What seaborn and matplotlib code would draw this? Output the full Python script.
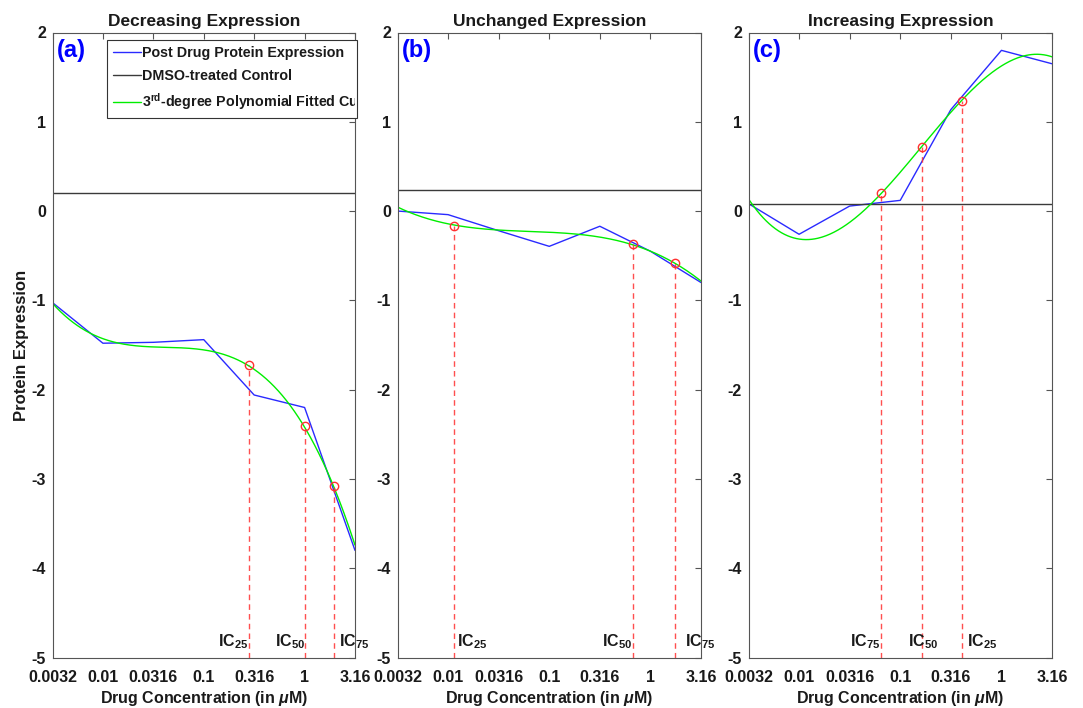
import numpy as np
import matplotlib
matplotlib.use("Agg")
import matplotlib.pyplot as plt
from matplotlib.transforms import Bbox, TransformedBbox
import seaborn as sns

# ---------------- data ----------------
conc = [0.0032, 0.01, 0.0316, 0.1, 0.316, 1, 3.16]
tick_labels = ["0.0032", "0.01", "0.0316", "0.1", "0.316", "1", "3.16"]

expr_decreasing = [-1.03, -1.48, -1.47, -1.44, -2.06, -2.20, -3.80]
expr_unchanged = [0.00, -0.04, -0.22, -0.395, -0.17, -0.45, -0.80]
expr_increasing = [0.08, -0.26, 0.056, 0.12, 1.136, 1.80, 1.65]

dmso_decreasing = 0.20
dmso_unchanged = 0.235
dmso_increasing = 0.075

ic_x_decreasing = [0.282, 1.006, 1.97]
ic_y_decreasing = [-1.727, -2.41, -3.08]
ic_lab_decreasing = ["25", "50", "75"]

ic_x_unchanged = [0.0114, 0.68, 1.75]
ic_y_unchanged = [-0.165, -0.37, -0.58]
ic_lab_unchanged = ["25", "50", "75"]

ic_x_increasing = [0.0652, 0.164, 0.409]
ic_y_increasing = [0.198, 0.715, 1.237]
ic_lab_increasing = ["75", "50", "25"]

titles = ["Decreasing Expression", "Unchanged Expression", "Increasing Expression"]
panel_tags = ["(a)", "(b)", "(c)"]

# ---------------- style ----------------
sns.set_theme(style="white")
plt.rcParams["font.family"] = ["Liberation Sans", "DejaVu Sans"]
plt.rcParams["font.weight"] = "bold"
plt.rcParams["axes.unicode_minus"] = False
plt.rcParams["mathtext.fontset"] = "custom"
plt.rcParams["mathtext.rm"] = "Liberation Sans:bold"
plt.rcParams["mathtext.bf"] = "Liberation Sans:bold"
plt.rcParams["mathtext.it"] = "Liberation Sans:italic"

TXT = "#1a1a1a"
SPINE = "#555555"

fig = plt.figure(figsize=(10.83, 7.08), dpi=100)
W, H = 1083.0, 708.0
lefts = [53, 398, 749]
widths = [302, 303, 303]
bottom_px, top_px = 657.5, 32.5

panels = [
    (expr_decreasing, dmso_decreasing, ic_x_decreasing, ic_y_decreasing, ic_lab_decreasing,
     [("right", -1), ("right", 0), ("left", 5)]),
    (expr_unchanged, dmso_unchanged, ic_x_unchanged, ic_y_unchanged, ic_lab_unchanged,
     [("left", 3), ("right", -1), ("left", 10)]),
    (expr_increasing, dmso_increasing, ic_x_increasing, ic_y_increasing, ic_lab_increasing,
     [("right", -1), ("left", -14), ("left", 5)]),
]

logc = np.log10(conc)
xs = np.logspace(np.log10(conc[0]), np.log10(conc[-1]), 300)

axes = []
for i, (expr, dmso, icx, icy, iclab, icpos) in enumerate(panels):
    ax = fig.add_axes([lefts[i] / W, 1 - bottom_px / H, widths[i] / W, (bottom_px - top_px) / H])
    axes.append(ax)

    sns.lineplot(x=conc, y=expr, ax=ax, color="#2a2aff", lw=1.0,
                 label="Post Drug Protein Expression", legend=False)
    ax.axhline(dmso, color="#3a3a3a", lw=1.0, label="DMSO-treated Control")
    coef = np.polyfit(logc, expr, 3)
    ys = np.polyval(coef, np.log10(xs))
    sns.lineplot(x=xs, y=ys, ax=ax, color="#00ee00", lw=1.0,
                 label="3$^{\\mathrm{rd}}$-degree Polynomial Fitted Curve", legend=False)

    for x0, y0, lab, (ha, off) in zip(icx, icy, iclab, icpos):
        ax.plot([x0, x0], [-5, y0], color="#ff3030", lw=1.0, ls=(0, (4, 3)), alpha=0.85)
        ax.plot([x0], [y0], marker="o", ms=6, mfc="none", mec="#ff3030", mew=1.0, ls="none")
        ax.annotate("IC$_{%s}$" % lab, xy=(x0, -4.875), xytext=(off, 0),
                    textcoords="offset pixels", ha=ha, va="baseline",
                    fontsize=11.5, fontweight="bold", color=TXT)

    ax.set_xscale("log")
    ax.set_xlim(conc[0], conc[-1])
    ax.set_ylim(-5, 2)
    ax.set_xticks(conc)
    ax.set_xticklabels(tick_labels)
    ax.minorticks_off()
    ax.set_yticks([-5, -4, -3, -2, -1, 0, 1, 2])
    ax.set_yticklabels(["-5", "-4", "-3", "-2", "-1", "0", "1", "2"])
    ax.tick_params(axis="both", which="both", direction="in", top=True, right=True,
                   length=4, width=0.8, color=SPINE, labelsize=11.5, labelcolor=TXT)
    ax.tick_params(axis="x", pad=9)
    ax.tick_params(axis="y", pad=5)
    for lbl in ax.get_xticklabels() + ax.get_yticklabels():
        lbl.set_fontweight("bold")
    for sp in ax.spines.values():
        sp.set_color(SPINE)
        sp.set_linewidth(0.8)
    ax.set_title(titles[i], fontsize=12.5, fontweight="bold", color=TXT, pad=5)
    ax.set_xlabel("Drug Concentration (in $\\mu$M)", fontsize=11.5, fontweight="bold",
                  color=TXT, labelpad=3)
    ax.text(0.012, 0.99, panel_tags[i], transform=ax.transAxes, ha="left", va="top",
            fontsize=17, fontweight="bold", color="#0000ff")

axes[0].set_ylabel("Protein Expression", fontsize=12, fontweight="bold", color=TXT, labelpad=2)

h, l = axes[0].get_legend_handles_labels()
leg = axes[0].legend(h[:3], l[:3], loc="upper left",
                     bbox_to_anchor=(0.179, 0.864, 0.828, 0.124), mode="expand",
                     borderaxespad=0, frameon=True, fancybox=False, framealpha=1,
                     edgecolor="#333333", fontsize=10.3, handlelength=2.0, handletextpad=0.05,
                     labelspacing=0.62, borderpad=0.4)
leg.get_frame().set_linewidth(0.8)
clip = TransformedBbox(Bbox([[0.179, 0.0], [1.0, 1.0]]), axes[0].transAxes)
for t in leg.get_texts():
    t.set_fontweight("bold")
    t.set_color(TXT)
    t.set_clip_on(True)
    t.set_clip_box(clip)

fig.savefig("out.png", dpi=100, facecolor="white")
